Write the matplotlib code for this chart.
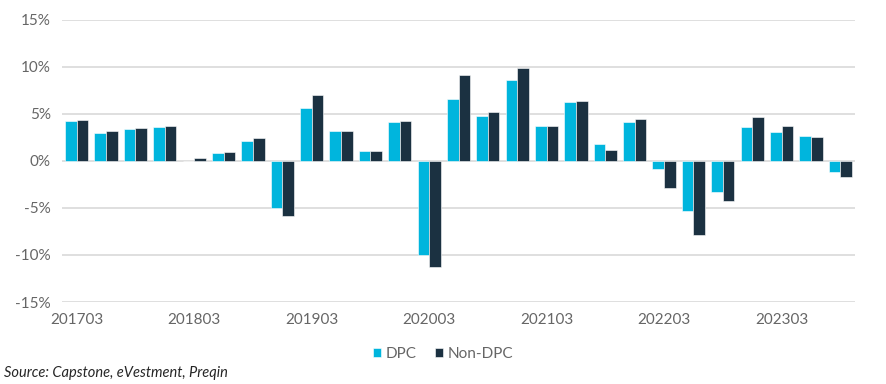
import matplotlib.pyplot as plt
import numpy as np

plt.rcParams['font.family'] = ['Lato', 'DejaVu Sans']

# quarterly returns, 2017Q1 .. 2023Q3
quarters = ['201703', '201706', '201709', '201712',
            '201803', '201806', '201809', '201812',
            '201903', '201906', '201909', '201912',
            '202003', '202006', '202009', '202012',
            '202103', '202106', '202109', '202112',
            '202203', '202206', '202209', '202212',
            '202303', '202306', '202309']
dpc = [4.25, 2.96, 3.32, 3.57,
       0.0, 0.86, 2.14, -5.04,
       5.6, 3.21, 1.0, 4.07,
       -9.96, 6.54, 4.71, 8.6,
       3.68, 6.25, 1.75, 4.07,
       -0.86, -5.32, -3.32, 3.6,
       3.04, 2.6, -1.21]
non_dpc = [4.32, 3.21, 3.5, 3.68,
           0.25, 0.93, 2.43, -5.86,
           6.96, 3.21, 1.0, 4.21,
           -11.3, 9.14, 5.14, 9.89,
           3.68, 6.32, 1.11, 4.43,
           -2.89, -7.89, -4.25, 4.6,
           3.68, 2.5, -1.75]

c_dpc = '#00B5DD'
c_non = '#1B3141'
grey = '#666666'

fig = plt.figure(figsize=(8.86, 3.84), dpi=100)
ax = fig.add_axes([0.070, 0.2135, 0.895, 0.7357])

x = np.arange(len(quarters))
w = 0.395
ax.bar(x - w/2, dpc, w, color=c_dpc, label='DPC', zorder=3, edgecolor='white', linewidth=0.4)
ax.bar(x + w/2, non_dpc, w, color=c_non, label='Non-DPC', zorder=3, edgecolor='white', linewidth=0.4)

ax.set_xlim(-0.5, len(quarters) - 0.5)
ax.set_ylim(-15, 15)
ax.set_yticks(np.arange(-15, 16, 5))
ax.set_yticklabels([f'{v}%' for v in range(-15, 16, 5)])
ax.set_xticks(x[::4])
ax.set_xticklabels(quarters[::4])
ax.yaxis.grid(True, color='#D9D9D9', linewidth=1.2, zorder=0)
ax.set_axisbelow(True)
for s in ax.spines.values():
    s.set_visible(False)
ax.tick_params(length=0, colors=grey, labelsize=11)
ax.tick_params(axis='y', pad=8)
ax.tick_params(axis='x', pad=8)

leg = fig.legend(loc='center', bbox_to_anchor=(0.5, 0.078), ncol=2, frameon=False,
                 fontsize=11, handlelength=0.55, handleheight=0.55, handletextpad=0.3,
                 columnspacing=1.2)
for t in leg.get_texts():
    t.set_color(grey)

fig.text(0.004, 0.028, 'Source: Capstone, eVestment, Preqin', fontsize=10.5,
         style='italic', color='#262626', ha='left', va='center')

fig.savefig('out.png', dpi=100)
